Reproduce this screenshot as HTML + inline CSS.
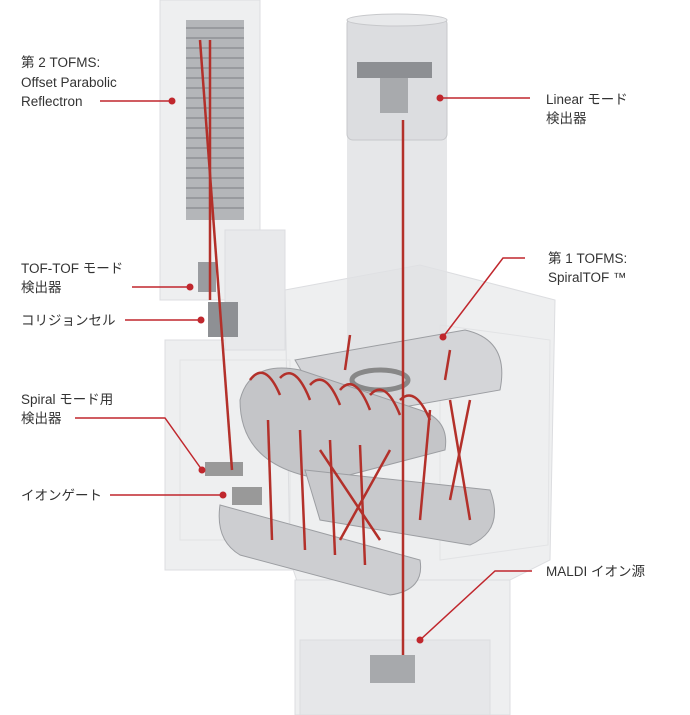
<!DOCTYPE html>
<html><head><meta charset="utf-8"><style>
html,body{margin:0;padding:0;background:#fff;width:690px;height:715px;overflow:hidden}
svg{display:block}
text{font-family:"Liberation Sans","Noto Sans CJK JP",sans-serif;font-size:13.5px;fill:#333}
</style></head><body>
<svg width="690" height="715" viewBox="0 0 690 715">
<g fill="#eeeff0" stroke="#dcdde0" stroke-width="1">
<rect x="160" y="0" width="100" height="300"/>
<rect x="165" y="340" width="130" height="230"/>
<polygon points="285,290 420,265 555,300 550,560 500,585 300,590 290,560"/>
<rect x="295" y="580" width="215" height="135"/>
<rect x="300" y="640" width="190" height="75" fill="#e6e7e9"/>
<rect x="225" y="230" width="60" height="120" fill="#e8e9eb"/>
</g>
<g fill="none" stroke="#e2e3e5"><polygon points="440,325 550,340 548,545 440,560"/><rect x="180" y="360" width="110" height="180"/></g>
<rect x="347" y="130" width="100" height="250" fill="#e0e1e3" opacity="0.8"/>
<rect x="347" y="18" width="100" height="122" rx="6" fill="#dcdde0" stroke="#c7c8cb"/>
<ellipse cx="397" cy="20" rx="50" ry="6" fill="#e8e9eb" stroke="#c7c8cb"/>
<rect x="357" y="62" width="75" height="16" fill="#8d8f93"/>
<rect x="380" y="78" width="28" height="35" fill="#a8aaad"/>
<g>
<rect x="186" y="20" width="58" height="200" fill="#b4b6b9"/>
<g stroke="#7d7f84" stroke-width="1">
<line x1="186" y1="28" x2="244" y2="28"/><line x1="186" y1="38" x2="244" y2="38"/><line x1="186" y1="48" x2="244" y2="48"/><line x1="186" y1="58" x2="244" y2="58"/><line x1="186" y1="68" x2="244" y2="68"/><line x1="186" y1="78" x2="244" y2="78"/><line x1="186" y1="88" x2="244" y2="88"/><line x1="186" y1="98" x2="244" y2="98"/><line x1="186" y1="108" x2="244" y2="108"/><line x1="186" y1="118" x2="244" y2="118"/><line x1="186" y1="128" x2="244" y2="128"/><line x1="186" y1="138" x2="244" y2="138"/><line x1="186" y1="148" x2="244" y2="148"/><line x1="186" y1="158" x2="244" y2="158"/><line x1="186" y1="168" x2="244" y2="168"/><line x1="186" y1="178" x2="244" y2="178"/><line x1="186" y1="188" x2="244" y2="188"/><line x1="186" y1="198" x2="244" y2="198"/><line x1="186" y1="208" x2="244" y2="208"/>
</g></g>
<rect x="198" y="262" width="18" height="30" fill="#9a9ca0"/>
<rect x="208" y="302" width="30" height="35" fill="#8e9094"/>
<g fill="#c8c9cc" stroke="#9c9ea2">
<path d="M295,360 L465,330 Q510,340 500,390 L330,420 Z" fill="#d4d5d8"/>
<path d="M240,400 Q250,360 300,370 L420,410 Q450,420 445,450 L330,480 Q240,470 240,400Z" fill="#c4c5c8"/>
<path d="M305,470 L490,490 Q505,530 470,545 L320,520 Z" fill="#c8c9cc"/>
<path d="M220,505 L420,560 Q425,590 390,595 L240,555 Q215,540 220,505Z" fill="#cdced1"/>
</g>
<ellipse cx="380" cy="380" rx="28" ry="10" fill="none" stroke="#888" stroke-width="5"/>
<rect x="205" y="462" width="38" height="14" fill="#999"/>
<rect x="232" y="487" width="30" height="18" fill="#999"/>
<rect x="370" y="655" width="45" height="28" fill="#a7a9ac"/>
<g stroke="#b3302a" stroke-width="2.5" fill="none">
<line x1="403" y1="120" x2="403" y2="655"/>
<line x1="200" y1="40" x2="232" y2="470"/>
<line x1="210" y1="40" x2="210" y2="300"/>
<path d="M250,380 Q265,360 280,395 M280,378 Q295,362 310,400 M310,385 Q325,368 340,405 M340,390 Q355,372 370,410 M370,395 Q385,378 400,415 M400,400 Q415,385 430,420"/>
<line x1="268" y1="420" x2="272" y2="540"/><line x1="300" y1="430" x2="305" y2="550"/><line x1="330" y1="440" x2="335" y2="555"/><line x1="360" y1="445" x2="365" y2="565"/><line x1="320" y1="450" x2="380" y2="540"/><line x1="390" y1="450" x2="340" y2="540"/><line x1="430" y1="410" x2="420" y2="520"/><line x1="450" y1="400" x2="470" y2="520"/><line x1="470" y1="400" x2="450" y2="500"/><line x1="350" y1="335" x2="345" y2="370"/><line x1="450" y1="350" x2="445" y2="380"/>
</g>
<g stroke="#c0272d" stroke-width="1.5" fill="none">
<line x1="100" y1="101" x2="172" y2="101"/>
<line x1="440" y1="98" x2="530" y2="98"/>
<polyline points="525,258 503,258 443,337"/>
<line x1="132" y1="287" x2="190" y2="287"/>
<line x1="125" y1="320" x2="201" y2="320"/>
<polyline points="75,418 165,418 202,470"/>
<line x1="110" y1="495" x2="223" y2="495"/>
<polyline points="532,571 495,571 420,640"/>
</g>
<g fill="#c0272d">
<circle cx="172" cy="101" r="3.5"/><circle cx="440" cy="98" r="3.5"/><circle cx="443" cy="337" r="3.5"/><circle cx="190" cy="287" r="3.5"/><circle cx="201" cy="320" r="3.5"/><circle cx="202" cy="470" r="3.5"/><circle cx="223" cy="495" r="3.5"/><circle cx="420" cy="640" r="3.5"/>
</g>
<text x="21" y="67">第 2 TOFMS:</text>
<text x="21" y="87">Offset Parabolic</text>
<text x="21" y="106">Reflectron</text>
<text x="546" y="104">Linear モード</text>
<text x="546" y="123">検出器</text>
<text x="548" y="263">第 1 TOFMS:</text>
<text x="548" y="282">SpiralTOF ™</text>
<text x="21" y="273">TOF-TOF モード</text>
<text x="21" y="292">検出器</text>
<text x="21" y="325">コリジョンセル</text>
<text x="21" y="404">Spiral モード用</text>
<text x="21" y="423">検出器</text>
<text x="21" y="500">イオンゲート</text>
<text x="546" y="576">MALDI イオン源</text>
</svg>
</body></html>
